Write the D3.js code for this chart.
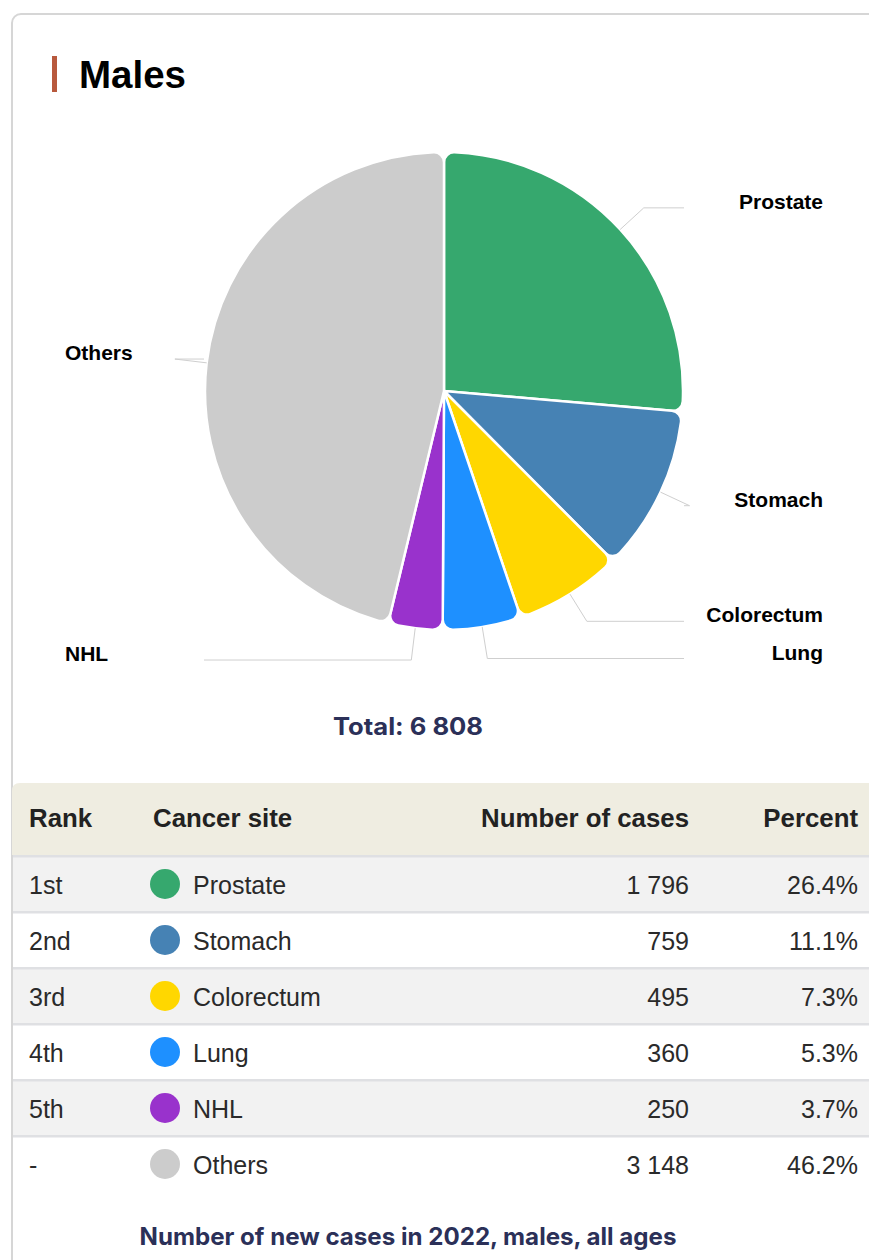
<!DOCTYPE html>
<html>
<head>
<meta charset="utf-8">
<script src="https://cdn.jsdelivr.net/npm/d3@7"></script>
<style>
  html, body { margin: 0; padding: 0; background: #fff; }
  svg { display: block; }
</style>
</head>
<body>
<svg id="chart" width="869" height="1260"></svg>
<script>
// ---- data ----
const sites = ["Prostate", "Stomach", "Colorectum", "Lung", "NHL", "Others"];
const cases = [1796, 759, 495, 360, 250, 3148];
const percents = [26.4, 11.1, 7.3, 5.3, 3.7, 46.2];
const ranks = ["1st", "2nd", "3rd", "4th", "5th", "-"];
const colors = ["#36a86e", "#4682b4", "#ffd700", "#1e90ff", "#9932cc", "#cccccc"];
const total = 6808;
const titleText = "Males";
const footerText = "Number of new cases in 2022, males, all ages";
const headers = ["Rank", "Cancer site", "Number of cases", "Percent"];

const W = 869, H = 1260;
const svg = d3.select("#chart");
const loc = d3.formatLocale({decimal: ".", thousands: " ", grouping: [3], currency: ["", ""]});
const fmt = loc.format(",d");

// card
svg.append("rect").attr("x", 12).attr("y", 14).attr("width", 920).attr("height", 1320)
  .attr("rx", 9).attr("fill", "#fff").attr("stroke", "#d6d6d6").attr("stroke-width", 2);

// title
svg.append("rect").attr("x", 52).attr("y", 56).attr("width", 5).attr("height", 36).attr("fill", "#b8593d");
svg.append("text").attr("x", 79).attr("y", 88).text(titleText)
  .attr("font-family", "'Liberation Sans', Arial, sans-serif").attr("font-weight", "bold")
  .attr("font-size", 38.5).attr("fill", "#000");

// pie
const cx = 444, cy = 391, r = 239;
const data = sites.map((s, i) => ({site: s, value: cases[i], color: colors[i]}));
const pie = d3.pie().value(d => d.value).sort(null);
const arcs = pie(data);
const arc = d3.arc().innerRadius(0).outerRadius(r).cornerRadius(10);
const onCircle = d3.arc().innerRadius(r).outerRadius(r);
const onOuter = d3.arc().innerRadius(r + 32).outerRadius(r + 32);

const g = svg.append("g").attr("transform", `translate(${cx},${cy})`);
g.selectAll("path.slice").data(arcs).join("path").attr("class", "slice")
  .attr("d", arc).attr("fill", d => d.data.color)
  .attr("stroke", "#fff").attr("stroke-width", 2.5).attr("stroke-linejoin", "round");

arcs.forEach(a => {
  const p0 = onCircle.centroid(a);
  const p1 = onOuter.centroid(a);
  const right = p1[0] >= 0;
  const endX = right ? 240 : -240;
  g.append("polyline")
    .attr("points", [p0, p1, [endX, p1[1]]].map(p => p.join(",")).join(" "))
    .attr("fill", "none").attr("stroke", "#cfcfcf").attr("stroke-width", 1);
  g.append("text")
    .attr("x", right ? 379 : -379).attr("y", p1[1] + 1)
    .attr("text-anchor", right ? "end" : "start")
    .attr("font-family", "'Liberation Sans', Arial, sans-serif").attr("font-weight", "bold")
    .attr("font-size", 21).attr("fill", "#000")
    .text(a.data.site);
});

// total
svg.append("text").attr("x", 408).attr("y", 735).attr("text-anchor", "middle")
  .attr("font-family", "Inter, 'Noto Sans', sans-serif").attr("font-weight", "bold")
  .attr("font-size", 24).attr("fill", "#2b3058")
  .attr("textLength", 150).attr("lengthAdjust", "spacingAndGlyphs")
  .text("Total: " + fmt(total));

// table
const tableTop = 783, headH = 72, rowH = 56;
const tX = 12, tW = 900;
svg.append("path")
  .attr("d", `M${tX},${tableTop + headH} V${tableTop + 8} Q${tX},${tableTop} ${tX + 8},${tableTop} H${tX + tW} V${tableTop + headH} Z`)
  .attr("fill", "#efede1");

const colX = [29, 153, 689, 858];
const colAnchor = ["start", "start", "end", "end"];
headers.forEach((h, i) => {
  svg.append("text").attr("x", colX[i]).attr("y", tableTop + 44)
    .attr("text-anchor", colAnchor[i])
    .attr("font-family", "'Liberation Sans', Arial, sans-serif").attr("font-weight", "bold")
    .attr("font-size", 25.8).attr("fill", "#222").text(h);
});

const rowY = i => tableTop + headH + 2 + i * rowH;
const rows = svg.append("g");
sites.forEach((s, i) => {
  const y0 = rowY(i);
  rows.append("rect").attr("x", tX + 1).attr("y", y0).attr("width", tW).attr("height", rowH)
    .attr("fill", i % 2 === 0 ? "#f2f2f2" : "#ffffff");
  rows.append("rect").attr("x", tX + 1).attr("y", y0 - 2).attr("width", tW).attr("height", 2.5)
    .attr("fill", "#dfe0e3");
  const ty = y0 + 37;
  const font = "'Liberation Sans', Arial, sans-serif";
  rows.append("text").attr("x", colX[0]).attr("y", ty).attr("font-family", font)
    .attr("font-size", 25).attr("fill", "#2a2a2a").text(ranks[i]);
  rows.append("circle").attr("cx", 165).attr("cy", y0 + 27).attr("r", 15).attr("fill", colors[i]);
  rows.append("text").attr("x", 193).attr("y", ty).attr("font-family", font)
    .attr("font-size", 25).attr("fill", "#2a2a2a").text(s);
  rows.append("text").attr("x", colX[2]).attr("y", ty).attr("text-anchor", "end").attr("font-family", font)
    .attr("font-size", 25).attr("fill", "#2a2a2a").text(fmt(cases[i]));
  rows.append("text").attr("x", colX[3]).attr("y", ty).attr("text-anchor", "end").attr("font-family", font)
    .attr("font-size", 25).attr("fill", "#2a2a2a").text(percents[i].toFixed(1) + "%");
});

// footer
svg.append("text").attr("x", 408).attr("y", 1245).attr("text-anchor", "middle")
  .attr("font-family", "Inter, 'Noto Sans', sans-serif").attr("font-weight", "bold")
  .attr("font-size", 24).attr("fill", "#2b3058")
  .attr("textLength", 537).attr("lengthAdjust", "spacingAndGlyphs")
  .text(footerText);
</script>
</body>
</html>
